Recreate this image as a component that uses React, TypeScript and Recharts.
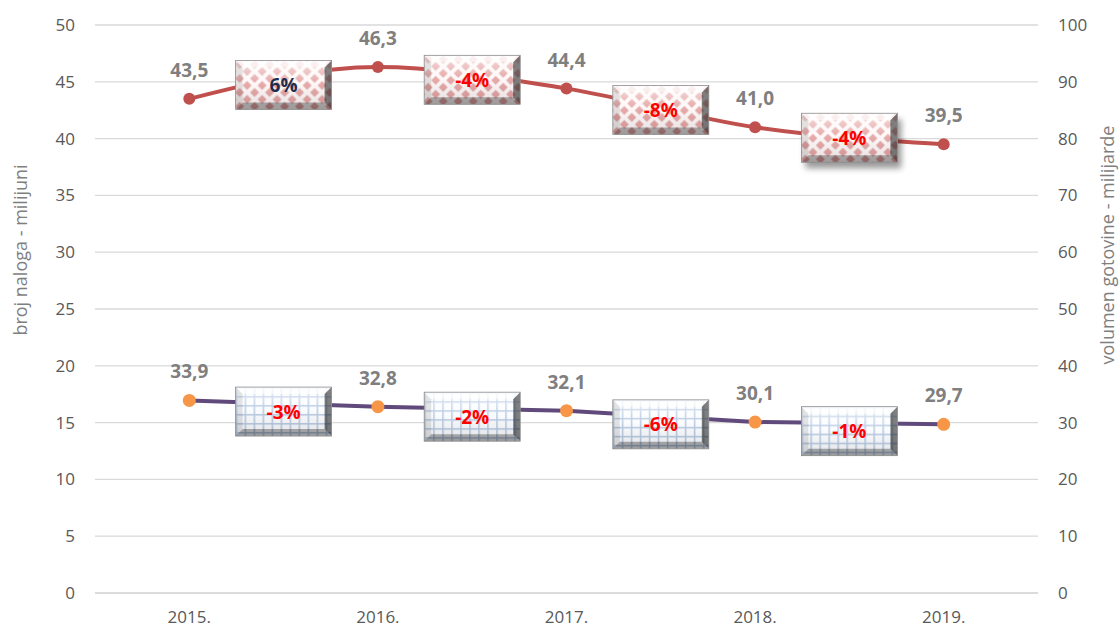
import { LineChart, Line, XAxis, YAxis, CartesianGrid } from "recharts"

const years = ["2015.", "2016.", "2017.", "2018.", "2019."]
const orders = [43.5, 46.3, 44.4, 41.0, 39.5]
const cash = [33.9, 32.8, 32.1, 30.1, 29.7]
const orderChanges = ["6%", "-4%", "-8%", "-4%"]
const cashChanges = ["-3%", "-2%", "-6%", "-1%"]

const FONT = "'Open Sans', 'DejaVu Sans', sans-serif"
const NARROW = "'Liberation Sans Narrow', 'Open Sans', sans-serif"

const orderData = years.map((_, i) => ({ x: i, v: orders[i] }))
const cashData = years.map((_, i) => ({ x: i, v: cash[i] }))

// change boxes sit between two neighbouring points
const orderBoxes = orderChanges.map((text, i) => ({ x: i + 0.5, v: (orders[i] + orders[i + 1]) / 2, text }))
const cashBoxes = cashChanges.map((text, i) => ({ x: i + 0.5, v: (cash[i] + cash[i + 1]) / 2, text }))

const fmt = (v: number) => v.toFixed(1).replace(".", ",")

const valueLabel = (props: any) => {
    const { x, y, value, index } = props
    return (
        <text key={`lbl-${index}`} x={x} y={y - 29} textAnchor="middle" dominantBaseline="central"
            fontFamily={FONT} fontWeight={700} fontSize={19} fill="#7f7f7f">
            {fmt(value)}
        </text>
    )
}

const BevelBox = ({ cx, cy, text, kind, id, shadow }: any) => {
    const w = 96, h = 49, d = 7
    const x = cx - w / 2, y = cy - h / 2
    const pat = `pat-${id}`, face = `face-${id}`, blur = `blur-${id}`
    const pink = "#e4a2a2"
    return (
        <g>
            <defs>
                {kind === "red" ? (
                    <pattern id={pat} width={15} height={14} patternUnits="userSpaceOnUse" x={x + 4} y={y + 4}>
                        <rect width={15} height={14} fill="#fff8f8" />
                        <polygon points="7.5,2.6 12,7 7.5,11.4 3,7" fill={pink} />
                        <polygon points="0,-4.4 4.5,0 0,4.4 -4.5,0" fill={pink} />
                        <polygon points="15,-4.4 19.5,0 15,4.4 10.5,0" fill={pink} />
                        <polygon points="0,9.6 4.5,14 0,18.4 -4.5,14" fill={pink} />
                        <polygon points="15,9.6 19.5,14 15,18.4 10.5,14" fill={pink} />
                    </pattern>
                ) : (
                    <pattern id={pat} width={9} height={9} patternUnits="userSpaceOnUse" x={x} y={y}>
                        <rect width={9} height={9} fill="#fafcff" />
                        <path d="M0 0.75 H9 M0.75 0 V9" stroke="#b3c6e0" strokeWidth={1.5} />
                    </pattern>
                )}
                <linearGradient id={face} x1="0" y1="0" x2="0" y2="1">
                    <stop offset="0" stopColor="#ffffff" stopOpacity={0.65} />
                    <stop offset="0.45" stopColor="#ffffff" stopOpacity={0.1} />
                    <stop offset="1" stopColor="#000000" stopOpacity={0.1} />
                </linearGradient>
                <filter id={blur} x="-20%" y="-20%" width="140%" height="160%">
                    <feGaussianBlur stdDeviation={3} />
                </filter>
            </defs>
            {shadow && <rect x={x + 4} y={y + 6} width={w} height={h} fill="#000" opacity={0.4} filter={`url(#${blur})`} />}
            <rect x={x} y={y} width={w} height={h} fill={`url(#${pat})`} />
            <rect x={x} y={y} width={w} height={h} fill={`url(#${face})`} />
            <polygon points={`${x},${y} ${x + w},${y} ${x + w - d},${y + d} ${x + d},${y + d}`} fill="#fff" opacity={0.6} />
            <polygon points={`${x},${y} ${x + d},${y + d} ${x + d},${y + h - d} ${x},${y + h}`} fill="#000" opacity={0.1} />
            <polygon points={`${x + w},${y} ${x + w},${y + h} ${x + w - d},${y + h - d} ${x + w - d},${y + d}`} fill="#000" opacity={0.5} />
            <polygon points={`${x},${y + h} ${x + w},${y + h} ${x + w - d},${y + h - d} ${x + d},${y + h - d}`} fill="#000" opacity={0.3} />
            <rect x={x} y={y} width={w} height={h} fill="none" stroke="#8c8c8c" strokeWidth={0.8} />
            <text x={cx} y={cy} textAnchor="middle" dominantBaseline="central" fontFamily={FONT}
                fontWeight={700} fontSize={19} fill={text.startsWith("-") ? "#ff0000" : "#1f2d4d"}>
                {text}
            </text>
        </g>
    )
}

const boxDot = (kind: string, shift: number) => (props: any) => {
    const { cx, cy, index, payload } = props
    return (
        <BevelBox key={`${kind}-${index}`} id={`${kind}-${index}`} cx={cx} cy={cy + shift}
            text={payload.text} kind={kind} shadow={kind === "red" && index === 3} />
    )
}

const AxisTitle = ({ viewBox, value, dx, dy }: any) => {
    const tx = viewBox.x + dx
    const ty = viewBox.y + dy
    return (
        <text x={tx} y={ty} transform={`rotate(-90, ${tx}, ${ty})`} textAnchor="middle" dominantBaseline="central"
            fontFamily={FONT} fontSize={18} fill="#7f7f7f">
            {value}
        </text>
    )
}

export default function App() {
    return (
        <div style={{ position: "absolute", left: 0, top: 0, width: 1119, height: 628, background: "#fff" }}>
            <LineChart width={1119} height={628} margin={{ top: 25, right: 0, bottom: 0, left: 0 }} style={{ fontFamily: FONT }}>
                <CartesianGrid yAxisId="left" vertical={false} stroke="#d9d9d9" strokeWidth={1.3} />
                <XAxis type="number" dataKey="x" domain={[-0.5, 4.5]} ticks={[0, 1, 2, 3, 4]} interval={0}
                    allowDataOverflow tickFormatter={(v) => years[v]} axisLine={{ stroke: "#d9d9d9", strokeWidth: 1.3 }}
                    tickLine={false} tickMargin={12} height={35}
                    tick={{ fill: "#595959", fontSize: 17, fontFamily: NARROW }} />
                <YAxis yAxisId="left" domain={[0, 50]} ticks={[0, 5, 10, 15, 20, 25, 30, 35, 40, 45, 50]} width={95}
                    axisLine={false} tickLine={false} tickMargin={14} tick={{ fill: "#595959", fontSize: 17 }}
                    label={(p: any) => <AxisTitle {...p} value="broj naloga - milijuni" dx={20} dy={225} />} />
                <YAxis yAxisId="right" orientation="right" domain={[0, 100]}
                    ticks={[0, 10, 20, 30, 40, 50, 60, 70, 80, 90, 100]} width={81}
                    axisLine={false} tickLine={false} tickMargin={14} tick={{ fill: "#595959", fontSize: 17 }}
                    label={(p: any) => <AxisTitle {...p} value="volumen gotovine - milijarde" dx={69} dy={220} />} />
                <Line yAxisId="left" data={orderData} dataKey="v" type="monotone" stroke="#c0504d" strokeWidth={4}
                    dot={{ r: 6, fill: "#c0504d", stroke: "none" }} activeDot={false} label={valueLabel}
                    isAnimationActive={false} />
                <Line yAxisId="right" data={cashData} dataKey="v" type="linear" stroke="#604a7b" strokeWidth={4}
                    dot={{ r: 6.5, fill: "#f79646", stroke: "none" }} activeDot={false} label={valueLabel}
                    isAnimationActive={false} />
                <Line yAxisId="left" data={orderBoxes} dataKey="v" stroke="none" dot={boxDot("red", 2)}
                    activeDot={false} isAnimationActive={false} />
                <Line yAxisId="right" data={cashBoxes} dataKey="v" stroke="none" dot={boxDot("blue", 8)}
                    activeDot={false} isAnimationActive={false} />
            </LineChart>
        </div>
    )
}
